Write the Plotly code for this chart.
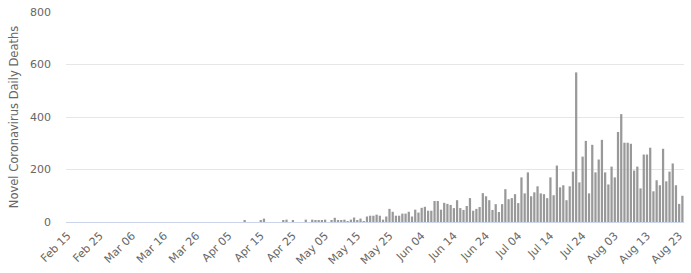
import plotly.graph_objects as go
import pandas as pd

start_date = "2020-02-15"
end_date = "2020-08-24"
dates = pd.date_range(start_date, end_date, freq="D")
categories = [d.strftime("%b %d") for d in dates]

# Daily deaths (Feb 15 .. Apr 9 are zero)
early_zero_days = 55
apr10_to_jun12 = [
    6, 0, 0, 0, 0, 6, 13, 0, 0, 0, 0, 0, 6, 9, 0, 6, 0, 0, 0, 9, 0,   # Apr 10 - Apr 30
    9, 6, 6, 6, 9, 0, 6, 16, 6, 6, 9, 2, 9, 17, 6, 13, 2, 21, 24, 24,  # May 1 - May 20
    28, 24, 9, 21, 50, 39, 24, 24, 32, 32, 39,                          # May 21 - May 31
    21, 47, 36, 54, 58, 43, 43, 80, 80, 47, 73, 69,                     # Jun 1 - Jun 12
]
jun13_to_aug24 = [
    65, 53, 83, 53, 46, 61, 91, 43, 50, 57, 110, 98, 83, 46, 68, 38, 68, 125,  # Jun 13 - Jun 30
    87, 91, 106, 72, 170, 109, 189, 98, 113, 136, 109, 106, 91, 170, 102, 215,  # Jul 1 - Jul 16
    132, 140, 83, 136, 192, 570, 151, 249, 309, 109, 294, 189, 238, 313, 189,   # Jul 17 - Jul 31
    143, 211, 170, 343, 411, 302, 302, 298, 196, 211, 128, 257, 257, 283, 117,  # Aug 1 - Aug 15
    159, 140, 279, 155, 192, 223, 140, 69, 100,                                 # Aug 16 - Aug 24
]
deaths = [0] * early_zero_days + apr10_to_jun12 + jun13_to_aug24

tick_labels = ["Feb 15", "Feb 25", "Mar 06", "Mar 16", "Mar 26", "Apr 05", "Apr 15",
               "Apr 25", "May 05", "May 15", "May 25", "Jun 04", "Jun 14", "Jun 24",
               "Jul 04", "Jul 14", "Jul 24", "Aug 03", "Aug 13", "Aug 23"]

y_ticks = [0, 200, 400, 600, 800]

font_family = "DejaVu Sans"

fig = go.Figure()
fig.add_trace(go.Bar(
    x=categories,
    y=deaths,
    marker=dict(color="#999999", line=dict(width=0)),
    hoverinfo="x+y",
))

fig.update_layout(
    width=691,
    height=273,
    margin=dict(l=66, r=6, t=10, b=49),
    paper_bgcolor="white",
    plot_bgcolor="white",
    bargap=0.3,
    showlegend=False,
    font=dict(family=font_family, color="#666666", size=11),
)

fig.update_xaxes(
    type="category",
    tickmode="array",
    tickvals=tick_labels,
    ticktext=tick_labels,
    tickangle=-45,
    tickfont=dict(size=11, color="#666666", family=font_family),
    showgrid=False,
    showline=True,
    linecolor="#ccd6eb",
    linewidth=1,
    ticks="",
    ticklabelstandoff=2,
)

fig.update_yaxes(
    range=[0, 800],
    tickmode="array",
    tickvals=y_ticks,
    ticktext=[str(v) for v in y_ticks],
    tickfont=dict(size=11, color="#666666", family=font_family),
    showgrid=True,
    gridcolor="#e6e6e6",
    gridwidth=1,
    zeroline=False,
    showline=False,
    ticks="",
    ticklabelstandoff=14,
    title=dict(text="Novel Coronavirus Daily Deaths",
               font=dict(size=11.5, color="#666666", family=font_family),
               standoff=8),
)

fig.write_html("out.html")
